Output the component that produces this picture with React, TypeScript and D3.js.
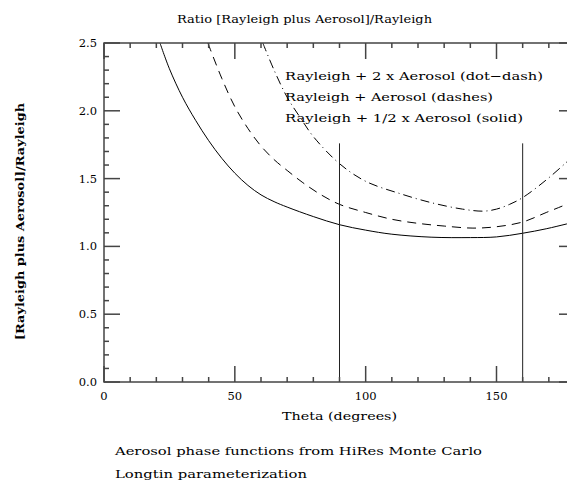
import React from "react";
import * as d3 from "d3";

const thetaSolid = [21.4, 25, 30, 35, 40, 45, 50, 55, 60, 65, 70, 80, 90, 100, 110, 125, 140, 150, 160, 169, 176.7, 180];
const ratioSolid = [2.5, 2.31, 2.1, 1.93, 1.78, 1.65, 1.54, 1.45, 1.38, 1.33, 1.29, 1.22, 1.16, 1.12, 1.09, 1.068, 1.065, 1.07, 1.097, 1.13, 1.165, 1.18];

const thetaDash = [39.7, 45, 50, 55, 60, 65, 70, 76, 83, 90, 100, 110, 120, 130, 141, 150, 160, 169, 176.7, 180];
const ratioDash = [2.5, 2.24, 2.03, 1.87, 1.74, 1.64, 1.56, 1.47, 1.38, 1.31, 1.25, 1.2, 1.17, 1.15, 1.135, 1.145, 1.18, 1.25, 1.31, 1.34];

const thetaDotDash = [60.7, 65, 70, 75, 80, 90, 100, 113, 125.6, 137, 145, 150, 155, 160, 169, 176.7, 180];
const ratioDotDash = [2.5, 2.3, 2.1, 1.95, 1.81, 1.61, 1.48, 1.39, 1.32, 1.275, 1.26, 1.275, 1.31, 1.36, 1.49, 1.62, 1.68];

const markerThetas = [90, 160];
const markerTop = 1.76;

const xMajorTicks = [0, 50, 100, 150];
const yMajorTicks = [0, 0.5, 1.0, 1.5, 2.0, 2.5];

const legendLabels = [
  "Rayleigh + 2 x Aerosol (dot\u2212dash)",
  "Rayleigh + Aerosol (dashes)",
  "Rayleigh + 1/2 x Aerosol (solid)",
];
const legendWidths = [258, 208, 238];

const titleText = "Ratio [Rayleigh plus Aerosol]/Rayleigh";
const xLabel = "Theta (degrees)";
const yLabel = "[Rayleigh plus Aerosol]/Rayleigh";
const notes = ["Aerosol phase functions from HiRes Monte Carlo", "Longtin parameterization"];
const noteWidths = [367, 192];

export default function App() {
  const W = 567, H = 482;
  const L = 104, R = 575, T = 43, B = 382;
  const x = d3.scaleLinear().domain([0, 180]).range([L, R]);
  const y = d3.scaleLinear().domain([0, 2.5]).range([B, T]);
  const font = "'DejaVu Serif', serif";
  const frame = "#444";

  const mk = (th: number[], v: number[]) =>
    d3.line<number>().x((d) => x(d)).y((_, i) => y(v[i])).curve(d3.curveCatmullRom.alpha(0.5))(th) || "";

  const xMinor = d3.range(0, 181, 10).filter((t) => !xMajorTicks.includes(t));
  const yMinor = d3.range(0, 26, 1).map((d) => d / 10).filter((t) => !yMajorTicks.some((m) => Math.abs(m - t) < 1e-6));

  return (
    <svg width={W} height={H} style={{ position: "absolute", left: 0, top: 0, background: "#fff" }}>
      <defs>
        <clipPath id="plot">
          <rect x={L} y={T} width={R - L} height={B - T} />
        </clipPath>
      </defs>

      <g clipPath="url(#plot)" fill="none" stroke="#000" strokeWidth={1}>
        <path d={mk(thetaSolid, ratioSolid)} />
        <path d={mk(thetaDash, ratioDash)} strokeDasharray="9 6" />
        <path d={mk(thetaDotDash, ratioDotDash)} strokeDasharray="9 4 1 4" />
      </g>

      {markerThetas.map((t) => (
        <line key={t} x1={x(t)} x2={x(t)} y1={y(0)} y2={y(markerTop)} stroke="#222" strokeWidth={1} />
      ))}

      <g stroke={frame} strokeWidth={1.5} fill="none">
        <rect x={L} y={T} width={R - L} height={B - T} />
        {xMajorTicks.map((t) => (
          <g key={"xm" + t}>
            <line x1={x(t)} x2={x(t)} y1={B} y2={B - 16} />
            <line x1={x(t)} x2={x(t)} y1={T} y2={T + 16} />
          </g>
        ))}
        {xMinor.map((t) => (
          <g key={"xn" + t}>
            <line x1={x(t)} x2={x(t)} y1={B} y2={B - 5} />
            <line x1={x(t)} x2={x(t)} y1={T} y2={T + 5} />
          </g>
        ))}
        {yMajorTicks.map((t) => (
          <g key={"ym" + t}>
            <line x1={L} x2={L + 16} y1={y(t)} y2={y(t)} />
            <line x1={R} x2={R - 16} y1={y(t)} y2={y(t)} />
          </g>
        ))}
        {yMinor.map((t) => (
          <g key={"yn" + t}>
            <line x1={L} x2={L + 5} y1={y(t)} y2={y(t)} />
            <line x1={R} x2={R - 5} y1={y(t)} y2={y(t)} />
          </g>
        ))}
      </g>

      <g fontFamily={font} fontSize={11.5} fill="#000">
        <text x={177} y={23} textLength={255} lengthAdjust="spacingAndGlyphs">{titleText}</text>
        {xMajorTicks.map((t) => (
          <text key={"xl" + t} x={x(t)} y={400} textAnchor="middle">{d3.format(".0f")(t)}</text>
        ))}
        {yMajorTicks.map((t) => (
          <text key={"yl" + t} x={L - 7} y={y(t) + 4} textAnchor="end">{d3.format(".1f")(t)}</text>
        ))}
        <text x={282} y={420} textLength={115} lengthAdjust="spacingAndGlyphs">{xLabel}</text>
        <text transform={`translate(24,${340}) rotate(-90)`} fontWeight="bold" textLength={237} lengthAdjust="spacingAndGlyphs">{yLabel}</text>
        {legendLabels.map((s, i) => (
          <text key={s} x={285} y={80 + i * 21} textLength={legendWidths[i]} lengthAdjust="spacingAndGlyphs">{s}</text>
        ))}
        {notes.map((s, i) => (
          <text key={s} x={115} y={455 + i * 23} textLength={noteWidths[i]} lengthAdjust="spacingAndGlyphs">{s}</text>
        ))}
      </g>
    </svg>
  );
}
